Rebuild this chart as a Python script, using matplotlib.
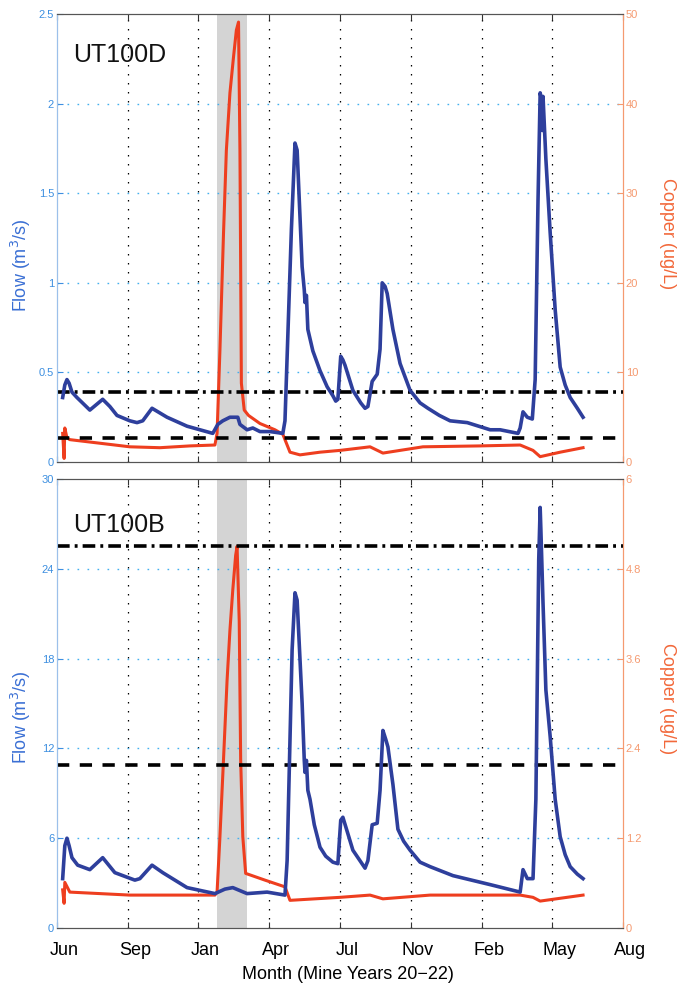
import matplotlib
matplotlib.use("Agg")
import matplotlib.pyplot as plt
import matplotlib.transforms as mtransforms
import numpy as np

plt.rcParams["font.family"] = ["Liberation Sans", "DejaVu Sans"]

# x axis: days since start of record (Mine Years 20-22)
x_span = 792
month_labels = ["Jun", "Sep", "Jan", "Apr", "Jul", "Nov", "Feb", "May", "Aug"]
shade_days = (224, 266)

# ---- UT100D ----
flow_d_day = [8, 11, 14, 17, 21, 28, 46, 64, 74, 84, 102, 112, 120, 133, 154, 182,
              218, 225, 232, 242, 253, 256, 266, 274, 284, 298, 316, 319, 328, 333,
              336, 343, 346, 347, 349, 351, 358, 368, 378, 386, 390, 393, 397, 400,
              403, 414, 425, 431, 435, 441, 448, 452, 455, 459, 462, 470, 480, 494,
              508, 519, 535, 550, 574, 606, 620, 645, 648, 652, 658, 665, 669, 673,
              676, 677, 679, 680, 684, 690, 697, 704, 711, 718, 728, 736]
flow_d = [0.36, 0.43, 0.46, 0.44, 0.39, 0.36, 0.29, 0.35, 0.31, 0.26, 0.23, 0.22, 0.23,
          0.30, 0.25, 0.20, 0.16, 0.21, 0.23, 0.25, 0.25, 0.21, 0.18, 0.19, 0.17, 0.17,
          0.16, 0.23, 1.30, 1.78, 1.74, 1.09, 0.96, 0.89, 0.93, 0.74, 0.62, 0.51, 0.42,
          0.37, 0.34, 0.35, 0.59, 0.57, 0.54, 0.40, 0.33, 0.30, 0.31, 0.45, 0.49, 0.63,
          1.00, 0.98, 0.94, 0.74, 0.55, 0.40, 0.33, 0.30, 0.26, 0.23, 0.22, 0.18, 0.18,
          0.16, 0.19, 0.28, 0.25, 0.24, 0.46, 1.46, 2.06, 2.04, 1.85, 2.04, 1.69, 1.28,
          0.85, 0.53, 0.43, 0.36, 0.30, 0.25]
cu_d_day = [8, 10, 11, 14, 18, 60, 102, 144, 186, 221, 224, 228, 233, 237, 242, 247,
            251, 254, 256, 258, 262, 268, 284, 305, 316, 326, 340, 368, 396, 438, 456,
            480, 512, 592, 648, 666, 676, 704, 736]
cu_d = [3.2, 0.4, 3.8, 2.7, 2.5, 2.1, 1.7, 1.6, 1.8, 1.9, 3.2, 12.5, 25.5, 34.8, 41.2,
        45.2, 48.2, 49.1, 34.8, 8.8, 5.8, 5.2, 4.3, 3.6, 3.1, 1.1, 0.8, 1.1, 1.3, 1.7,
        1.0, 1.3, 1.7, 1.8, 1.9, 1.3, 0.6, 1.1, 1.6]
thr_d = {"acute": 7.85, "chronic": 2.7}

# ---- UT100B ----
flow_b_day = [8, 11, 14, 17, 21, 29, 46, 64, 81, 109, 116, 133, 148, 182, 221, 235,
              246, 256, 266, 294, 319, 322, 329, 333, 336, 343, 346, 347, 349, 351,
              354, 360, 368, 376, 386, 393, 397, 400, 414, 431, 435, 441, 448, 452,
              456, 460, 463, 470, 477, 485, 494, 508, 522, 554, 606, 648, 652, 658,
              666, 670, 674, 676, 677, 680, 684, 690, 697, 704, 711, 718, 728, 736]
flow_b = [3.3, 5.5, 6.0, 5.5, 4.7, 4.2, 3.9, 4.7, 3.7, 3.2, 3.3, 4.2, 3.7, 2.7, 2.3, 2.6,
          2.7, 2.5, 2.3, 2.4, 2.2, 4.5, 18.6, 22.4, 21.9, 15.0, 11.2, 10.4, 11.2, 9.2,
          8.6, 6.9, 5.4, 4.8, 4.4, 4.3, 7.2, 7.4, 5.2, 4.0, 4.5, 6.9, 7.0, 9.2, 13.2,
          12.6, 12.1, 9.6, 6.6, 5.8, 5.2, 4.4, 4.1, 3.5, 2.9, 2.4, 3.9, 3.3, 3.3, 8.6,
          24.6, 28.1, 26.6, 21.7, 15.9, 12.8, 8.6, 6.1, 4.9, 4.1, 3.6, 3.3]
cu_b_day = [8, 10, 11, 18, 102, 221, 224, 228, 233, 238, 242, 246, 250, 252, 255, 257,
            260, 264, 291, 319, 326, 396, 438, 456, 522, 648, 666, 676, 736]
cu_b = [0.51, 0.33, 0.61, 0.48, 0.44, 0.44, 0.48, 1.22, 2.25, 3.31, 3.98, 4.52, 4.98,
        5.10, 4.10, 2.25, 1.22, 0.73, 0.64, 0.55, 0.37, 0.41, 0.44, 0.39, 0.44, 0.44,
        0.41, 0.36, 0.44]
thr_b = {"acute": 5.10, "chronic": 2.18}

panels = [
    dict(name="UT100D", fday=flow_d_day, flow=flow_d, cday=cu_d_day, cu=cu_d, thr=thr_d,
         fmax=2.5, fticks=[0, 0.5, 1, 1.5, 2, 2.5], flabels=["0", "0.5", "1", "1.5", "2", "2.5"],
         cmax=50, cticks=[0, 10, 20, 30, 40, 50], clabels=["0", "10", "20", "30", "40", "50"]),
    dict(name="UT100B", fday=flow_b_day, flow=flow_b, cday=cu_b_day, cu=cu_b, thr=thr_b,
         fmax=30, fticks=[0, 6, 12, 18, 24, 30], flabels=["0", "6", "12", "18", "24", "30"],
         cmax=6, cticks=[0, 1.2, 2.4, 3.6, 4.8, 6], clabels=["0", "1.2", "2.4", "3.6", "4.8", "6"]),
]

BLUE = "#2e3f9c"
RED = "#ee3e1f"
LBLUE = "#3d8fe0"
LORANGE = "#f59a70"
GRID_BLUE = "#45b0ee"

fig = plt.figure(figsize=(6.78, 9.86), dpi=100)
rects = [[0.084, 0.5314, 0.835, 0.4544], [0.084, 0.0588, 0.835, 0.4554]]
xticks = np.linspace(0, x_span, len(month_labels))

for i, (p, rect) in enumerate(zip(panels, rects)):
    ax = fig.add_axes(rect)
    ax2 = ax.twinx()
    # flow axis drawn on top, copper axis (with shading and grid) underneath
    ax.set_zorder(ax2.get_zorder() + 1)
    ax.patch.set_visible(False)

    ax2.axvspan(*shade_days, color="#d4d4d4", lw=0, zorder=0)
    for xt in xticks[1:-1]:
        ax2.axvline(xt, color="k", ls=(0, (1.2, 6)), lw=0.9, zorder=1)
    for yt in p["cticks"][1:-1]:
        ax2.axhline(yt, color=GRID_BLUE, ls=(0, (1.2, 6)), lw=1.0, zorder=1)

    ax2.plot(p["cday"], p["cu"], color=RED, lw=2.2, zorder=3)
    ax2.axhline(p["thr"]["acute"], color="k", lw=2.6, ls=(0, (3.5, 1.4, 0.8, 1.4)),
                dash_capstyle="butt", zorder=4)
    ax2.axhline(p["thr"]["chronic"], color="k", lw=2.6, ls=(0, (3.4, 2.9)),
                dash_capstyle="butt", zorder=4)
    ax.plot(p["fday"], p["flow"], color=BLUE, lw=2.6, zorder=5)

    ax.set_xlim(0, x_span)
    ax.set_ylim(0, p["fmax"])
    ax2.set_ylim(0, p["cmax"])
    ax.set_xticks(xticks)
    ax.tick_params(axis="x", direction="in", length=4, top=True, pad=10, color="#333333")
    if i == 1:
        ax.set_xticklabels(month_labels, fontsize=13)
        ax.set_xlabel("Month (Mine Years 20\u221222)", fontsize=13)
        ax.xaxis.set_label_coords(0.514, -0.085)
    else:
        ax.set_xticklabels([])

    ax.set_yticks(p["fticks"])
    ax.set_yticklabels(p["flabels"], fontsize=8, color=LBLUE)
    ax.tick_params(axis="y", direction="in", length=4, color=LBLUE, pad=2)
    ax2.set_yticks(p["cticks"])
    ax2.set_yticklabels(p["clabels"], fontsize=8, color=LORANGE)
    ax2.tick_params(axis="y", direction="in", length=4, color=LORANGE, pad=2)

    for a in (ax, ax2):
        a.spines["top"].set_color("#555555")
        a.spines["bottom"].set_color("#555555")
        a.spines["left"].set_color("#9cc0ea")
        a.spines["right"].set_color(LORANGE)

    ax.set_ylabel("Flow (m$^3$/s)", fontsize=13, color="#3a6fd4")
    ax.yaxis.set_label_coords(-0.042, 0.44 if i == 0 else 0.47)
    ax2.set_ylabel("Copper (ug/L)", fontsize=13, color="#f2683a", rotation=270)
    ax2.yaxis.set_label_coords(1.093, 0.51)

    ax.text(0.028, 0.935 if i == 0 else 0.925, p["name"], transform=ax.transAxes,
            fontsize=18, va="top", ha="left", color="#111111")

    if i == 1:
        # month labels sit slightly right of their ticks in the original
        shift = mtransforms.ScaledTranslation(0.07, 0, fig.dpi_scale_trans)
        for tick in ax.xaxis.get_major_ticks():
            tick.label1.set_transform(tick.label1.get_transform() + shift)

fig.savefig("out.png", dpi=100)
